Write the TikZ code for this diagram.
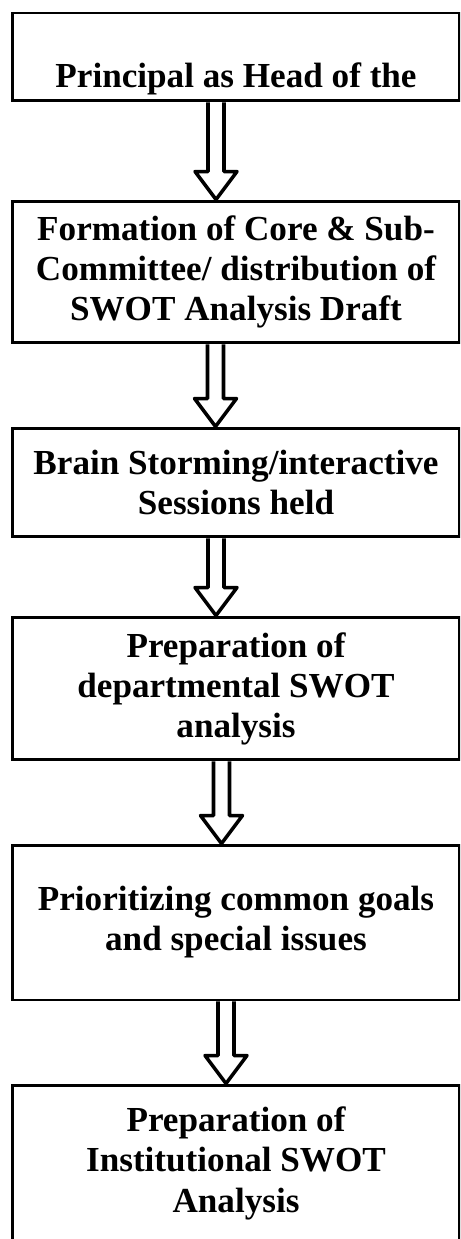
\documentclass[tikz,border=0pt]{standalone}
\usepackage{fontspec}
\setmainfont{Liberation Serif}
\usetikzlibrary{calc}

\tikzset{
  stage/.style={draw, line width=1.7pt, minimum width=8.94cm, inner sep=0pt,
    align=center, font=\bfseries\fontsize{20}{22.8}\selectfont},
  hollow/.style={draw, line width=2pt, line join=round},
}

% hollow block arrow from box #1 down to box #2, shifted by #3
\newcommand{\flowarrow}[3]{%
  \draw[hollow] ($(#1.south)+(#3-8,0)$) -- ($(#2.north)+(#3-8,-28)$)
    -- ($(#2.north)+(#3-21,-28)$) -- ($(#2.north)+(#3,0)$)
    -- ($(#2.north)+(#3+21,-28)$) -- ($(#2.north)+(#3+8,-28)$)
    -- ($(#1.south)+(#3+8,0)$);}

\begin{document}
\begin{tikzpicture}[x=0.02cm, y=-0.02cm]
    \clip (0,0) rectangle (460,1239);
    \def\cx{236} % centre line of the boxes

    % === Boxes ===
    \node[stage, minimum height=1.76cm, text height=1.5cm, text depth=0.26cm]
        (head) at (\cx,57) {Principal as Head of the};
    \node[stage, minimum height=2.84cm] (core) at (\cx,272)
        {Formation of Core \& Sub-\\Committee/ distribution of\\SWOT Analysis Draft};
    \node[stage, minimum height=2.18cm] (brain) at (\cx,482.5)
        {Brain Storming/interactive\\Sessions held};
    \node[stage, minimum height=2.86cm] (dept) at (\cx,688.5)
        {Preparation of\\departmental SWOT\\analysis};
    \node[stage, minimum height=3.1cm] (goals) at (\cx,922.5)
        {Prioritizing common goals\\and special issues};
    \node[stage, minimum height=3.3cm, text height=2.54cm, text depth=0.76cm]
        (inst) at (\cx,1167.5) {Preparation of\\Institutional SWOT\\Analysis};

    % === Arrows ===
    \flowarrow{head}{core}{-20}
    \flowarrow{core}{brain}{-20.5}
    \flowarrow{brain}{dept}{-20}
    \flowarrow{dept}{goals}{-14.5}
    \flowarrow{goals}{inst}{-10}
\end{tikzpicture}
\end{document}
